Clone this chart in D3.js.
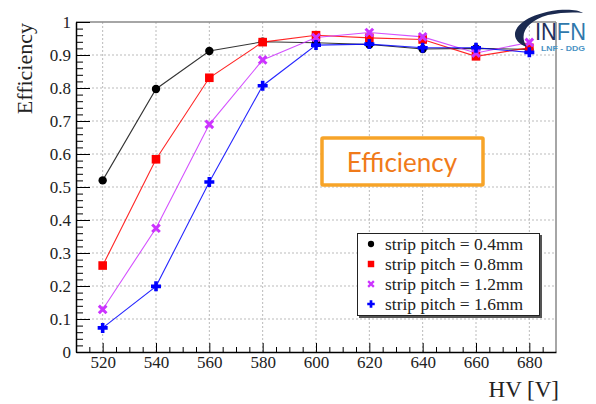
<!DOCTYPE html>
<html><head><meta charset="utf-8">
<script src="https://cdn.jsdelivr.net/npm/d3@7"></script>
<style>body{margin:0;background:#fff}svg{display:block}</style>
</head><body><svg id="c" width="596" height="404"></svg>
<script>
const hv = [520,540,560,580,600,620,640,660,680];
const eff04 = [0.520,0.797,0.912,0.940,0.937,0.932,0.918,0.920,0.917];
const eff08 = [0.262,0.584,0.831,0.939,0.960,0.952,0.947,0.896,0.922];
const eff12 = [0.129,0.375,0.690,0.885,0.953,0.968,0.955,0.906,0.938];
const eff16 = [0.073,0.199,0.515,0.807,0.930,0.933,0.922,0.922,0.908];
const seriesNames = ["strip pitch = 0.4mm","strip pitch = 0.8mm","strip pitch = 1.2mm","strip pitch = 1.6mm"];
const seriesColors = ["#000000","#ff0000","#cc33ff","#0000ff"];
const seriesMarkers = ["circle","square","x","plus"];
const xMajor = [520,540,560,580,600,620,640,660,680];
const yMajor = [0,0.1,0.2,0.3,0.4,0.5,0.6,0.7,0.8,0.9,1];
const yLabels = ["0","0.1","0.2","0.3","0.4","0.5","0.6","0.7","0.8","0.9","1"];

const svg = d3.select("#c");
const x = d3.scaleLinear().domain([510,690]).range([76,556]);
const y = d3.scaleLinear().domain([0,1]).range([352,22]);
const serif = "'Liberation Serif','Times New Roman',serif";

// grid
const g = svg.append("g");
g.selectAll(".gx").data(xMajor).join("line")
  .attr("x1",d=>x(d)).attr("x2",d=>x(d)).attr("y1",y(0)).attr("y2",y(1))
  .attr("stroke","#bbbbbb").attr("stroke-dasharray","2,2").attr("stroke-width",1);
g.selectAll(".gy").data(yMajor.slice(1,-1)).join("line")
  .attr("x1",x(510)).attr("x2",x(690)).attr("y1",d=>y(d)).attr("y2",d=>y(d))
  .attr("stroke","#bbbbbb").attr("stroke-dasharray","2,2").attr("stroke-width",1);

// frame top/right
svg.append("line").attr("x1",x(510)).attr("x2",x(690)).attr("y1",y(1)).attr("y2",y(1)).attr("stroke","#888").attr("stroke-width",1.5);
svg.append("line").attr("x1",x(690)).attr("x2",x(690)).attr("y1",y(1)).attr("y2",y(0)).attr("stroke","#888").attr("stroke-width",1.5);

// axes
const xMinor = d3.range(515,690,5).filter(v=>v%20!==0);
const yMinor = d3.range(0,1.0001,0.02).filter(v=>Math.abs(v*10-Math.round(v*10))>1e-6);
const ax = svg.append("g").attr("transform",`translate(0,${y(0)})`)
  .call(d3.axisBottom(x).tickValues(xMajor).tickSizeInner(-9).tickSizeOuter(0).tickPadding(16).tickFormat(d3.format("d")));
svg.append("g").attr("transform",`translate(0,${y(0)})`)
  .call(d3.axisBottom(x).tickValues(xMinor).tickSizeInner(-5).tickSizeOuter(0).tickFormat(""))
  .select(".domain").remove();
ax.select(".domain").attr("stroke","#000").attr("stroke-width",1.5);
ax.selectAll("text").attr("font-family",serif).attr("font-size",17).attr("fill","#222").attr("dy","0");
ax.selectAll(".tick line").attr("stroke","#000");

const ay = svg.append("g").attr("transform",`translate(${x(510)},0)`)
  .call(d3.axisLeft(y).tickValues(yMajor).tickSizeInner(-14).tickSizeOuter(0).tickPadding(5).tickFormat((d,i)=>yLabels[i]));
svg.append("g").attr("transform",`translate(${x(510)},0)`)
  .call(d3.axisLeft(y).tickValues(yMinor).tickSizeInner(-7).tickSizeOuter(0).tickFormat(""))
  .select(".domain").remove();
ay.select(".domain").attr("stroke","#000").attr("stroke-width",1.5);
ay.selectAll("text").attr("font-family",serif).attr("font-size",17).attr("fill","#222");
ay.selectAll(".tick line").attr("stroke","#000");

// axis titles
svg.append("text").attr("transform",`translate(32,${y(1)+1}) rotate(-90)`).attr("text-anchor","end")
  .attr("font-family",serif).attr("font-size",22).attr("fill","#222").text("Efficiency");
svg.append("text").attr("x",559).attr("y",397).attr("text-anchor","end")
  .attr("font-family",serif).attr("font-size",23).attr("fill","#222").text("HV [V]");

// markers
function marker(sel, type, color, s){
  if(type==="circle") sel.append("circle").attr("r",4.2*s).attr("fill",color);
  else if(type==="square") sel.append("rect").attr("x",-4.3*s).attr("y",-4.3*s).attr("width",8.6*s).attr("height",8.6*s).attr("fill",color);
  else if(type==="x") sel.append("path").attr("d",`M${-3.8*s},${-3.8*s}L${3.8*s},${3.8*s}M${-3.8*s},${3.8*s}L${3.8*s},${-3.8*s}`).attr("stroke",color).attr("stroke-width",3*s);
  else { const a=5*s,b=1.8*s; sel.append("path").attr("d",`M${-b},${-a}H${b}V${-b}H${a}V${b}H${b}V${a}H${-b}V${b}H${-a}V${-b}H${-b}Z`).attr("fill",color); }
}

const allSeries = [eff04,eff08,eff12,eff16];
const line = d3.line().x((d,i)=>x(hv[i])).y(d=>y(d));
allSeries.forEach((vals,k)=>{
  svg.append("path").datum(vals).attr("d",line).attr("fill","none").attr("stroke",seriesColors[k]).attr("stroke-width",1.1).attr("opacity",k===0?0.8:0.85);
});
allSeries.forEach((vals,k)=>{
  vals.forEach((v,i)=>{
    const m = svg.append("g").attr("transform",`translate(${x(hv[i])},${y(v)})`);
    marker(m, seriesMarkers[k], seriesColors[k], 1);
  });
});

// legend
const lg = svg.append("g");
lg.append("rect").attr("x",359).attr("y",235).attr("width",183).attr("height",83).attr("fill","#555");
lg.append("rect").attr("x",357.5).attr("y",233.5).attr("width",182).attr("height",82).attr("fill","#fff").attr("stroke","#222").attr("stroke-width",1);
seriesNames.forEach((n,k)=>{
  const cy = 244 + k*20;
  const m = lg.append("g").attr("transform",`translate(371,${cy})`);
  marker(m, seriesMarkers[k], seriesColors[k], 0.75);
  lg.append("text").attr("x",385).attr("y",cy+6).attr("font-family",serif).attr("font-size",17.5).attr("fill","#222").text(n);
});

// annotation box
svg.append("rect").attr("x",322).attr("y",138).attr("width",161).attr("height",47).attr("fill","#fff")
  .attr("stroke","#f7a428").attr("stroke-width",3.5).attr("rx",1);
svg.append("text").attr("x",402).attr("y",172).attr("text-anchor","middle").attr("font-family","Lato, 'Open Sans', sans-serif")
  .attr("font-size",26).attr("fill","#f07a1a").text("Efficiency");

// logo
const logo = svg.append("g");
logo.append("path").attr("d","M527,47 C505,40 512,16 558,10 C570,9 579,10 583,13 C575,12 562,12 548,15 C527,21 518,34 527,47 Z").attr("fill","#1b2a50");
const lt = logo.append("text").attr("x",535).attr("y",40).attr("font-family","'Liberation Sans Narrow','Liberation Sans',sans-serif").attr("font-size",24).attr("textLength",51).attr("lengthAdjust","spacingAndGlyphs");
lt.append("tspan").attr("fill","#1d2f5c").text("IN");
lt.append("tspan").attr("fill","#2f78ac").text("FN");
logo.append("text").attr("x",541).attr("y",51).attr("font-family","'Liberation Sans Narrow','Liberation Sans',sans-serif").attr("font-size",8).attr("font-weight","bold").attr("textLength",44).attr("lengthAdjust","spacingAndGlyphs").attr("fill","#4a93c4").text("LNF - DDG");
</script></body></html>
